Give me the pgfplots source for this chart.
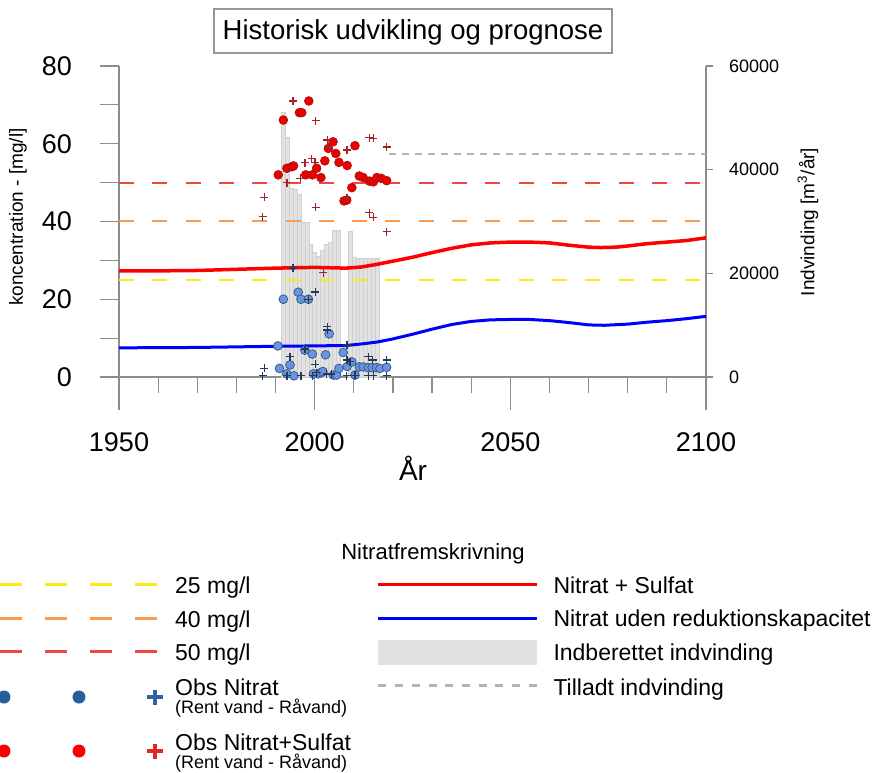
\documentclass[border=0pt]{standalone}
\usepackage{fontspec}
\setmainfont{Liberation Sans}
\usepackage{pgfplots}
\pgfplotsset{compat=1.18}
\definecolor{axisgray}{RGB}{140,140,140}
\definecolor{titlegray}{RGB}{150,150,150}
\definecolor{redline}{RGB}{255,0,0}
\definecolor{blueline}{RGB}{0,0,255}
\definecolor{yel}{RGB}{250,235,20}
\definecolor{orng}{RGB}{250,155,80}
\definecolor{red50}{RGB}{240,70,70}
\definecolor{barfill}{RGB}{226,226,226}
\definecolor{barline}{RGB}{208,208,208}
\definecolor{tillgray}{RGB}{180,180,180}
\definecolor{redpt}{RGB}{235,0,0}
\definecolor{redptedge}{RGB}{170,20,20}
\definecolor{bluept}{RGB}{100,150,225}
\definecolor{blueptedge}{RGB}{60,80,120}
\definecolor{redplus}{RGB}{165,35,40}
\definecolor{blueplus}{RGB}{35,55,95}
\definecolor{legblue}{RGB}{40,95,150}
\definecolor{legblueplus}{RGB}{50,100,165}
\definecolor{legred}{RGB}{250,0,0}
\definecolor{legredplus}{RGB}{225,40,40}
\begin{document}
\begin{tikzpicture}
\path[use as bounding box] (0,0) rectangle (873bp,773bp);

% ---------- axis A: x axis at y = 0 ----------
\begin{axis}[at={(119bp,396bp)}, anchor=south west, scale only axis,
  width=587bp, height=311bp,
  xmin=1950, xmax=2100, ymin=0, ymax=80,
  axis x line*=bottom, axis y line=none, ytick=\empty,
  axis line style={draw=axisgray, line width=1.2bp, -},
  xtick={1950,2000,2050,2100},
  minor xtick={1960,1970,1980,1990,2010,2020,2030,2040,2060,2070,2080,2090},
  tick align=outside, major tick length=33bp, minor tick length=16bp,
  tick style={draw=axisgray, line width=1.2bp},
  xticklabel style={font=\fontsize{27bp}{30bp}\selectfont, anchor=north, inner sep=0pt, yshift=-22bp},
  /pgf/number format/assume math mode=true, /pgf/number format/1000 sep={},
]
\addplot[draw=none, forget plot] coordinates {(1950,0) (2100,0)};
\end{axis}

% ---------- axis B: abstraction (right axis) ----------
\begin{axis}[at={(119bp,363bp)}, anchor=south west, scale only axis,
  width=587bp, height=344bp,
  xmin=1950, xmax=2100, ymin=-6366.6, ymax=60000,
  axis y line*=right, axis x line=none, xtick=\empty,
  axis line style={draw=axisgray, line width=1.2bp, -},
  ytick={0,20000,40000,60000},
  tick align=outside, major tick length=7bp,
  tick style={draw=axisgray, line width=1.2bp},
  yticklabel style={font=\fontsize{18bp}{20bp}\selectfont, anchor=west, inner sep=0pt, xshift=16bp},
  scaled y ticks=false,
  /pgf/number format/assume math mode=true, /pgf/number format/1000 sep={},
  clip=false,
  legend style={at={(0.43901,-0.47471)}, anchor=north west, draw=none, fill=none,
    inner sep=0pt, outer sep=0pt, row sep=0pt, column sep=15bp,
    nodes={inner sep=0pt, outer sep=0pt}, cells={anchor=base west},
    font=\fontsize{23bp}{27bp}\selectfont},
]
\addplot[ybar, bar width=1, fill=barfill, draw=barline, line width=0.5bp, forget plot] coordinates {
(1992,51150) (1993,46300) (1994,36450) (1995,36150) (1996,35250) (1997,29850) (1998,29850)
(1999,25650) (2000,24150) (2001,23300) (2002,24500) (2003,25650) (2004,26000) (2005,28350)
(2006,28350) (2009,28050) (2010,23100) (2011,22900) (2012,22900) (2013,22900) (2014,22900)
(2015,22900) (2016,22900)};
\addplot[tillgray, line width=2.5bp, dash pattern=on 6.5bp off 6.5bp, forget plot] coordinates {(2019,43000) (2100,43000)};
\addlegendimage{legend image code/.code={\path[draw=none,fill=none] (0bp,-13.4bp) rectangle (158.3bp,20bp);
  \draw[redline, line width=3.5bp] (0bp,9bp) -- (158.3bp,9bp);}}
\addlegendentry{Nitrat + Sulfat}
\addlegendimage{legend image code/.code={\path[draw=none,fill=none] (0bp,-13.3bp) rectangle (158.3bp,20bp);
  \draw[blueline, line width=3bp] (0bp,8.4bp) -- (158.3bp,8.4bp);}}
\addlegendentry{Nitrat uden reduktionskapacitet}
\addlegendimage{legend image code/.code={\path[draw=none,fill=none] (0bp,-15bp) rectangle (158.3bp,20bp);
  \fill[barfill, draw=none] (0bp,-5bp) rectangle (158.3bp,20bp);}}
\addlegendentry{Indberettet indvinding}
\addlegendimage{legend image code/.code={\path[draw=none,fill=none] (0bp,-10bp) rectangle (158.3bp,20bp);
  \draw[tillgray, line width=3bp, dash pattern=on 8bp off 8.7bp] (0bp,9.3bp) -- (158.3bp,9.3bp);}}
\addlegendentry{Tilladt indvinding}
\end{axis}

% ---------- axis C: concentrations (left axis) ----------
\begin{axis}[at={(119bp,363bp)}, anchor=south west, scale only axis,
  width=587bp, height=344bp,
  xmin=1950, xmax=2100, ymin=-8.4887, ymax=80,
  axis y line*=left, axis x line=none, xtick=\empty,
  axis line style={draw=axisgray, line width=1.2bp, -},
  ytick={0,20,40,60,80}, minor ytick={10,30,50,70},
  tick align=outside, major tick length=19bp, minor tick length=19bp,
  tick style={draw=axisgray, line width=1.2bp},
  yticklabel style={font=\fontsize{27bp}{30bp}\selectfont, anchor=east, inner sep=0pt, xshift=-28bp},
  /pgf/number format/assume math mode=true,
  clip=false,
  legend style={at={(-0.20698,-0.47384)}, anchor=north west, draw=none, fill=none,
    inner sep=0pt, outer sep=0pt, row sep=0pt, column sep=11bp,
    nodes={inner sep=0pt, outer sep=0pt}, cells={anchor=base west},
    font=\fontsize{23bp}{27bp}\selectfont},
]
\addplot[yel, line width=2bp, dash pattern=on 15bp off 18.3bp, forget plot] coordinates {(1950,25) (2100,25)};
\addplot[orng, line width=2bp, dash pattern=on 15bp off 18.3bp, forget plot] coordinates {(1950,40) (2100,40)};
\addplot[red50, line width=2bp, dash pattern=on 15bp off 18.3bp, forget plot] coordinates {(1950,50) (2100,50)};
\addplot[redline, line width=3.5bp, forget plot] coordinates {
(1950,27.3) (1960,27.3) (1970,27.4) (1980,27.7) (1990,28.0) (2000,28.2) (2008,28.0) (2012,28.3)
(2016,29.0) (2020,29.8) (2025,30.8) (2030,32.0) (2035,33.1) (2040,34.0) (2045,34.5) (2050,34.7)
(2055,34.7) (2060,34.5) (2065,33.9) (2070,33.4) (2073,33.3) (2077,33.4) (2080,33.7) (2085,34.3)
(2090,34.7) (2095,35.1) (2100,35.8)};
\addplot[blueline, line width=3bp, forget plot] coordinates {
(1950,7.5) (1970,7.6) (1990,7.9) (2000,8.0) (2008,8.1) (2012,8.5) (2016,9.0) (2020,9.8)
(2025,11.0) (2030,12.3) (2035,13.5) (2040,14.3) (2045,14.7) (2050,14.8) (2055,14.8) (2060,14.5)
(2065,14.0) (2070,13.4) (2074,13.3) (2080,13.6) (2085,14.1) (2090,14.5) (2095,15.0) (2100,15.6)};
% blue circles (Obs Nitrat)
\addplot[only marks, mark=*, mark size=4.4bp, mark options={fill=bluept, draw=blueptedge, line width=0.7bp}, forget plot] coordinates {
(1990.6,8.0) (1991.0,2.2) (1992.0,20.0) (1992.9,0.8) (1993.7,3.1) (1994.7,0.3) (1995.8,21.8)
(1996.5,20.0) (1997.5,6.9) (1998.4,20.0) (1999.4,5.9) (1999.7,0.8) (2000.9,0.8) (2001.6,1.1)
(2002.1,1.4) (2002.8,5.7) (2003.7,11.1) (2004.8,0.5) (2005.6,0.5) (2006.2,2.2) (2007.3,6.3)
(2008.3,2.7) (2009.5,3.9) (2010.3,0.5) (2011.4,2.6) (2012.4,2.6) (2013.7,2.4) (2014.7,2.4)
(2015.8,2.4) (2016.7,2.2) (2018.4,2.5)};
% red circles (Obs Nitrat+Sulfat)
\addplot[only marks, mark=*, mark size=4.4bp, mark options={fill=redpt, draw=redptedge, line width=0.7bp}, forget plot] coordinates {
(1990.7,52.0) (1992.0,66.1) (1992.9,53.7) (1994.2,54.1) (1994.6,54.3) (1996.1,68.0) (1996.7,68.0)
(1997.7,52.0) (1998.5,71.0) (1999.4,52.0) (2000.5,53.7) (2001.6,51.3) (2002.6,55.6) (2003.5,58.8)
(2004.7,60.5) (2005.4,57.5) (2006.2,55.2) (2007.5,45.3) (2008.2,45.5) (2008.3,54.4) (2009.5,48.7)
(2010.3,59.5) (2011.4,51.7) (2012.4,51.3) (2014.0,50.4) (2015.0,50.2) (2015.9,51.3) (2017.0,51.1)
(2018.4,50.5)};
% blue pluses
\addplot[only marks, mark=+, mark size=4bp, mark options={draw=blueplus, line width=1.3bp}, forget plot] coordinates {
(1986.7,0.3) (1987.1,2.2) (1992.9,0.3) (1993.7,5.2) (1994.5,28.0) (1996.5,0.3) (1997.5,7.2)
(1998.4,20.0) (1999.5,0.3) (2000.2,21.9) (2000.2,3.3) (2000.5,1.1) (2003.1,0.8) (2003.2,12.9)
(2003.2,12.1) (2004.3,0.8) (2008.2,0.3) (2008.3,8.2) (2008.3,4.4) (2009.0,3.9) (2010.3,0.4)
(2013.7,5.2) (2013.7,0.3) (2014.8,4.4) (2015.0,0.3) (2018.4,4.4) (2018.4,0.3)};
% red pluses
\addplot[only marks, mark=+, mark size=4bp, mark options={draw=redplus, line width=1.3bp}, forget plot] coordinates {
(1986.7,41.2) (1987.1,46.2) (1992.9,50.0) (1994.5,71.0) (1996.3,51.1) (1997.5,55.1) (1999.2,56.2)
(2000.1,55.1) (2000.3,65.9) (2000.3,43.6) (2002.2,26.8) (2003.2,61.0) (2003.5,59.2) (2008.3,58.4)
(2008.3,46.1) (2014.0,61.6) (2015.0,61.4) (2014.0,42.3) (2015.0,41.1) (2018.4,59.2) (2018.4,37.4)};
% legend (left column)
\addlegendimage{legend image code/.code={\path[draw=none,fill=none] (0bp,-14bp) rectangle (162bp,20bp);
  \draw[yel, line width=3bp, dash pattern=on 22bp off 23bp] (0bp,8.5bp) -- (158bp,8.5bp);}}
\addlegendentry{25 mg/l}
\addlegendimage{legend image code/.code={\path[draw=none,fill=none] (0bp,-13bp) rectangle (162bp,20bp);
  \draw[orng, line width=3bp, dash pattern=on 22bp off 23bp] (0bp,8.5bp) -- (158bp,8.5bp);}}
\addlegendentry{40 mg/l}
\addlegendimage{legend image code/.code={\path[draw=none,fill=none] (0bp,-15bp) rectangle (162bp,20bp);
  \draw[red50, line width=3bp, dash pattern=on 22bp off 23bp] (0bp,8.5bp) -- (158bp,8.5bp);}}
\addlegendentry{50 mg/l}
\addlegendimage{legend image code/.code={\path[draw=none,fill=none] (0bp,-35bp) rectangle (162bp,20bp);
  \fill[legblue, draw=none] (4bp,-2bp) circle (6.5bp);
  \fill[legblue, draw=none] (79bp,-2bp) circle (6.5bp);
  \path[draw=legblueplus, line width=3.4bp] (147.5bp,-2bp) -- (162.5bp,-2bp) (155bp,-9.5bp) -- (155bp,5.5bp);}}
\addlegendentry{\vtop{\baselineskip=18bp\hbox{Obs Nitrat}\hbox{\fontsize{18bp}{20bp}\selectfont (Rent vand - Råvand)}}}
\addlegendimage{legend image code/.code={\path[draw=none,fill=none] (0bp,-30bp) rectangle (162bp,20bp);
  \fill[legred, draw=none] (4bp,-1bp) circle (6.5bp);
  \fill[legred, draw=none] (79bp,-1bp) circle (6.5bp);
  \path[draw=legredplus, line width=3.4bp] (147.5bp,-1bp) -- (162.5bp,-1bp) (155bp,-8.5bp) -- (155bp,6.5bp);}}
\addlegendentry{\vtop{\baselineskip=18bp\hbox{Obs Nitrat+Sulfat}\hbox{\fontsize{18bp}{20bp}\selectfont (Rent vand - Råvand)}}}
\end{axis}

% ---------- texts ----------
\node[draw=titlegray, line width=1.3bp, minimum width=398bp, minimum height=44bp, inner sep=0pt,
  text height=20bp, text depth=2bp, font=\fontsize{27.5bp}{30bp}\selectfont] at (413bp,742bp) {Historisk udvikling og prognose};
\node[rotate=90, font=\fontsize{19bp}{22bp}\selectfont] at (18bp,556bp) {koncentration - [mg/l]};
\node[rotate=90, font=\fontsize{19bp}{22bp}\selectfont] at (808bp,551bp) {Indvinding [m\textsuperscript{3}/år]};
\node[anchor=base, font=\fontsize{28bp}{30bp}\selectfont] at (413bp,292bp) {År};
\node[anchor=base, font=\fontsize{22bp}{26bp}\selectfont] at (433bp,213bp) {Nitratfremskrivning};
\end{tikzpicture}
\end{document}
